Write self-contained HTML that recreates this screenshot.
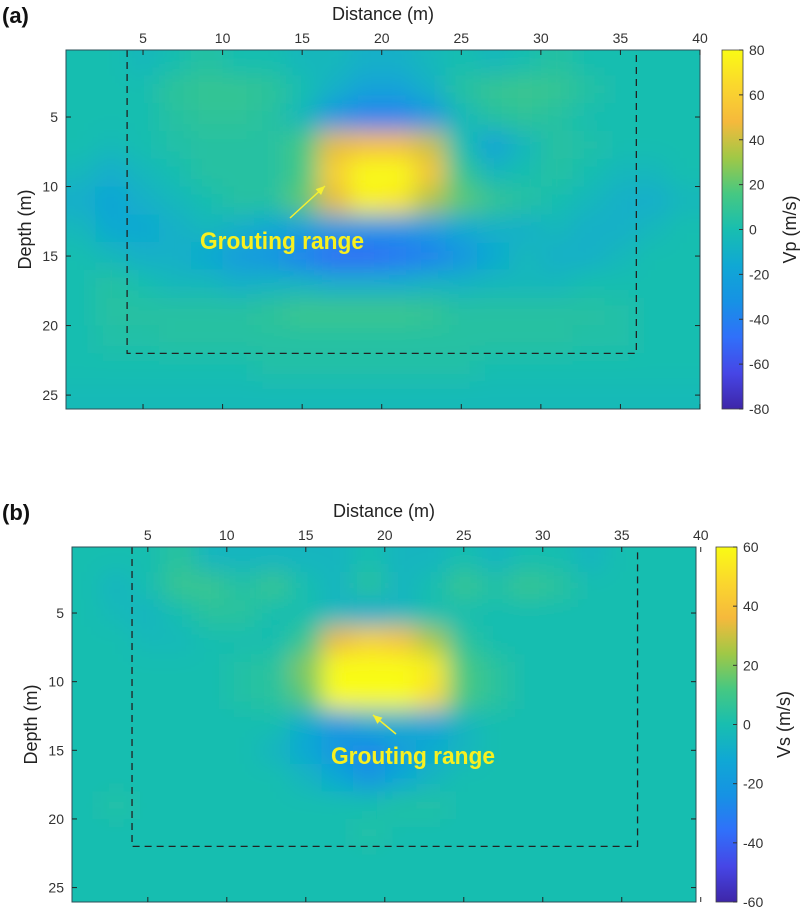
<!DOCTYPE html>
<html><head><meta charset="utf-8"><style>
html,body{margin:0;padding:0;background:#fff;}
svg{display:block;font-family:"Liberation Sans",Arial,sans-serif;}
</style></head><body>
<svg id="fig" width="803" height="911" viewBox="0 0 803 911">
<defs>
<filter id="blurA" filterUnits="userSpaceOnUse" x="0" y="0" width="803" height="911"><feGaussianBlur stdDeviation="12"/></filter>
<clipPath id="clipA"><rect x="66" y="50" width="634" height="359"/></clipPath>
<clipPath id="clipB"><rect x="72" y="547" width="624" height="355"/></clipPath>
</defs>
</svg>
<script>
// ---- data ----
const xCenters = [1,3,5,7,9,11,13,15,17,19,21,23,25,27,29,31,33,35,37,39];
const depthCenters = [1,3,5,7,9,11,13,15,17,19,21,23,25];
const vpValues = [
[0,0,-5,0,5,0,0,-5,-5,-10,-10,-5,0,-5,0,5,0,0,0,0],
[0,0,0,8,10,10,8,0,-10,-20,-20,-10,5,10,12,10,5,0,0,0],
[0,0,0,5,8,8,5,-5,-30,-40,-40,-30,-5,5,8,5,0,0,0,0],
[0,-3,0,3,5,5,5,15,45,50,50,40,0,-20,-5,5,3,0,0,0],
[-5,-12,-5,0,5,5,5,15,60,85,80,55,10,-5,0,5,0,-5,-5,0],
[-12,-18,-10,-5,0,5,5,20,45,75,70,35,20,10,5,0,-5,-10,-12,-5],
[-5,-15,-15,-10,-5,-10,-15,-20,-25,-30,-30,-25,-15,-10,-10,-5,-10,-10,-5,0],
[0,-5,-10,-10,-15,-25,-30,-40,-50,-50,-45,-40,-30,-15,-5,-10,-10,-5,0,0],
[0,5,0,-5,-5,-10,-8,-8,-12,-12,-12,-8,-8,-5,-5,-5,0,0,0,0],
[0,5,5,5,5,5,8,12,12,12,12,10,5,5,5,5,5,3,0,0],
[0,3,3,5,5,5,5,5,5,5,5,5,5,5,5,5,3,3,0,0],
[0,0,0,0,0,0,3,3,3,3,3,3,3,0,0,0,0,0,0,0],
[-3,-3,-3,-3,-3,-3,-3,-3,-3,-3,-3,-3,-3,-3,-3,-3,-3,-3,-3,-3]
];
const vsValues = [
[0,0,0,5,-5,-5,-5,-5,-5,0,-5,-5,0,-5,0,0,-5,0,0,0],
[0,-5,0,8,8,3,8,0,-5,5,-5,0,8,3,8,5,0,0,0,0],
[0,-3,-5,0,5,5,0,0,-5,-10,-5,0,0,0,0,0,0,0,0,0],
[0,0,-3,-3,0,0,0,8,35,45,40,25,5,0,0,0,0,0,0,0],
[0,0,0,0,0,3,5,20,65,75,70,55,12,5,0,0,0,0,0,0],
[0,0,0,0,0,3,5,15,60,75,70,50,12,5,0,0,0,0,0,0],
[0,0,0,0,0,0,0,-10,-20,-10,-10,-15,-5,0,0,0,0,0,0,0],
[0,0,0,0,0,0,-5,-12,-22,-28,-18,-10,-5,0,0,0,0,0,0,0],
[0,0,0,0,0,0,0,-5,-12,-22,-12,-5,0,0,0,0,0,0,0,0],
[0,3,0,0,0,0,0,0,0,0,3,3,0,0,0,0,0,0,0,0],
[0,0,0,0,0,0,0,0,0,3,0,0,0,0,0,0,0,0,0,0],
[0,0,0,0,0,0,0,0,0,0,0,0,0,0,0,0,0,0,0,0],
[0,0,0,0,0,0,0,0,0,0,0,0,0,0,0,0,0,0,0,0]
];
const xTicks = [5,10,15,20,25,30,35,40];
const depthTicks = [5,10,15,20,25];
const vpTicks = [80,60,40,20,0,-20,-40,-60,-80];
const vsTicks = [60,40,20,0,-20,-40,-60];

// ---- colormap ----
const parula = [[62,38,168],[70,70,230],[48,112,250],[22,146,228],[16,168,212],[24,190,176],[70,200,130],[160,200,70],[245,185,60],[250,215,45],[249,251,20]];
function colorAt(t){t=Math.max(0,Math.min(1,t));const f=t*(parula.length-1);const i=Math.min(parula.length-2,Math.floor(f));const r=f-i;const a=parula[i],b=parula[i+1];
return 'rgb('+a.map((v,k)=>Math.round(v+(b[k]-v)*r)).join(',')+')';}

const NS='http://www.w3.org/2000/svg';
const svg=document.getElementById('fig');
const defs=svg.querySelector('defs');
function mk(tag,attrs,parent){const e=document.createElementNS(NS,tag);for(const k in attrs)e.setAttribute(k,attrs[k]);(parent||svg).appendChild(e);return e;}

function drawPanel(p){
  const sx=v=>p.px0+(v-p.x0)/(p.x1-p.x0)*(p.px1-p.px0);
  const sy=v=>p.py0+(v-p.d0)/(p.d1-p.d0)*(p.py1-p.py0);
  const sc=v=>(v-p.vmin)/(p.vmax-p.vmin);
  const g=mk('g',{});
  
  
  const hm=mk('g',{'clip-path':'url(#'+p.clip+')'},g);
  
  
  mk('rect',{x:p.px0,y:p.py0,width:p.px1-p.px0,height:p.py1-p.py0,fill:colorAt(sc(0))},hm);
  const cells=mk('g',{filter:'url(#blurA)'},hm);
  p.vals.forEach((row,ri)=>row.forEach((v,ci)=>{
    const xc=xCenters[ci],dc=depthCenters[ri];
    let xa=sx(xc-1),xb=sx(xc+1),ya=sy(dc-1),yb=sy(dc+1);
    if(ci===0)xa-=30; if(ci===row.length-1)xb+=30; if(ri===0)ya-=30; if(ri===p.vals.length-1)yb+=30;
    const r=mk('rect',{x:xa,y:ya,width:xb-xa+0.5,height:yb-ya+0.5,fill:colorAt(sc(v))},cells);
    
    
  }));
  const box=mk('path',{d:`M${sx(4)},${p.py0} L${sx(4)},${sy(22)} L${sx(36)},${sy(22)} L${sx(36)},${p.py0}`,fill:'none',stroke:'#222','stroke-width':1.3,'stroke-dasharray':'7,5'},g);
  
  
  const fr=mk('rect',{x:p.px0,y:p.py0,width:p.px1-p.px0,height:p.py1-p.py0,fill:'none',stroke:'#2d4f57','stroke-width':1},g);
  
  
  xTicks.forEach(t=>{const x=sx(t);
    mk('line',{x1:x,y1:p.py0,x2:x,y2:p.py0+5,stroke:'#222'},g);
    mk('line',{x1:x,y1:p.py1,x2:x,y2:p.py1-5,stroke:'#222'},g);
    const tx=mk('text',{x:x,y:p.py0-7,'font-size':14,fill:'#333','text-anchor':'middle'},g);tx.textContent=t;
    
    });
  depthTicks.forEach(t=>{const y=sy(t);
    mk('line',{x1:p.px0,y1:y,x2:p.px0+5,y2:y,stroke:'#222'},g);
    mk('line',{x1:p.px1,y1:y,x2:p.px1-5,y2:y,stroke:'#222'},g);
    const tx=mk('text',{x:p.px0-8,y:y+5,'font-size':14,fill:'#333','text-anchor':'end'},g);tx.textContent=t;
    
    });
  const xt=mk('text',{x:(p.px0+p.px1)/2,y:p.py0-30,'font-size':18,fill:'#222','text-anchor':'middle'},g);xt.textContent='Distance (m)';
  
  
  const ym=(p.py0+p.py1)/2;
  const yt=mk('text',{x:0,y:0,'font-size':18,fill:'#222','text-anchor':'middle',transform:`translate(${p.px0-35},${ym}) rotate(-90)`},g);yt.textContent='Depth (m)';
  
  
  const pl=mk('text',{x:2,y:p.py0-27,'font-size':22,'font-weight':'bold',fill:'#111'},g);pl.textContent=p.label;
  
  
  const gid='grad'+p.name;
  const lg=mk('linearGradient',{id:gid,x1:0,y1:1,x2:0,y2:0},defs);
  for(let i=0;i<=20;i++)mk('stop',{offset:i/20,'stop-color':colorAt(i/20)},lg);
  const cb=mk('rect',{x:p.cbx,y:p.py0,width:21,height:p.py1-p.py0,fill:`url(#${gid})`,stroke:'#444','stroke-width':0.8},g);
  
  
  p.cticks.forEach(t=>{const y=p.py1-(t-p.vmin)/(p.vmax-p.vmin)*(p.py1-p.py0);
    mk('line',{x1:p.cbx+21,y1:y,x2:p.cbx+17,y2:y,stroke:'#333'},g);
    const tx=mk('text',{x:p.cbx+27,y:y+5,'font-size':14,fill:'#333'},g);tx.textContent=t;
    
    });
  const ct=mk('text',{x:0,y:0,'font-size':18,fill:'#222','text-anchor':'middle',transform:`translate(${p.cbx+74},${ym}) rotate(-90)`},g);ct.textContent=p.cbTitle;
  
  
  const ar=mk('g',{},g);
  
  
  mk('line',{x1:p.ann.ax,y1:p.ann.ay,x2:p.ann.bx,y2:p.ann.by,stroke:'#f5f030','stroke-width':1.5},ar);
  const ang=Math.atan2(p.ann.by-p.ann.ay,p.ann.bx-p.ann.ax);const L=9,W=4;
  const hx=p.ann.bx,hy=p.ann.by;
  const pts=[[hx,hy],[hx-L*Math.cos(ang)+W*Math.sin(ang),hy-L*Math.sin(ang)-W*Math.cos(ang)],[hx-L*Math.cos(ang)-W*Math.sin(ang),hy-L*Math.sin(ang)+W*Math.cos(ang)]];
  mk('polygon',{points:pts.map(q=>q.join(',')).join(' '),fill:'#f5f030'},ar);
  const at=mk('text',{x:p.ann.tx,y:p.ann.ty,'font-size':24,'font-weight':'bold',fill:'#f8f020',textLength:p.ann.tl,lengthAdjust:'spacingAndGlyphs'},ar);at.textContent='Grouting range';
}

drawPanel({name:'vp',label:'(a)',vals:vpValues,px0:66,px1:700,py0:50,py1:409,x0:0.16,x1:40,d0:0.18,d1:26,clip:'clipA',
  vmin:-80,vmax:80,cticks:vpTicks,cbx:722,cbTitle:'Vp (m/s)',ann:{ax:290,ay:218,bx:325,by:186,tx:200,ty:249,tl:164}});
drawPanel({name:'vs',label:'(b)',vals:vsValues,px0:72,px1:696,py0:547,py1:902,x0:0.2,x1:39.7,d0:0.19,d1:26.05,clip:'clipB',
  vmin:-60,vmax:60,cticks:vsTicks,cbx:716,cbTitle:'Vs (m/s)',ann:{ax:396,ay:734,bx:373,by:715,tx:331,ty:764,tl:164}});
</script>
</body></html>
